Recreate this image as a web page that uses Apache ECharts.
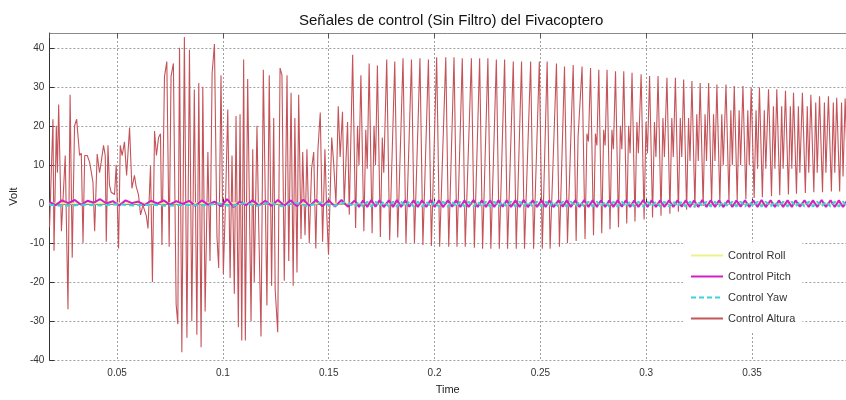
<!DOCTYPE html>
<html>
<head>
<meta charset="utf-8">
<title>Señales de control</title>
<script src="https://cdn.jsdelivr.net/npm/echarts@6/dist/echarts.min.js"></script>
<style>
  html, body { margin: 0; padding: 0; background: #fff; }
  #chart { width: 846px; height: 400px; }
</style>
</head>
<body>
<div id="chart"></div>
<script>
// Control Altura, irregular start: [time, volt] turning points
const alturaEarly = [
    [0.0181, -6], [0.0197, 21.7], [0.0202, -12], [0.0213, 20], [0.0218, 8], [0.0224, 25.5],
    [0.0237, -7], [0.0255, 12.4], [0.0268, -27], [0.0278, 28], [0.0288, -13.8], [0.0299, 20],
    [0.0309, 21.7], [0.0316, 17], [0.0323, 12.4], [0.0331, 13], [0.0339, -10], [0.0347, 12.4],
    [0.0359, 12.4], [0.0370, 10.7], [0.0378, 8.2], [0.0386, 5.6], [0.0394, -7], [0.0406, 12.8],
    [0.0417, 8], [0.0425, 10.7], [0.0436, 15], [0.0444, 12.4], [0.0449, -9.7], [0.0457, 15],
    [0.0464, 4.8], [0.0472, 3], [0.0488, 2.4], [0.0496, 10], [0.0507, -11.4], [0.0515, 15],
    [0.0524, 12.4], [0.0535, 15.9], [0.0545, 7.3], [0.0559, 19.6], [0.0570, 4], [0.0582, 7.3],
    [0.0590, 4.5], [0.0601, 2.4], [0.0611, -2.8], [0.0622, -0.3], [0.0638, -3], [0.0646, -6.3],
    [0.0658, 9.7], [0.0667, -20], [0.0677, 18.7], [0.0686, 12.4], [0.0696, 17], [0.0705, 18],
    [0.0712, -10.5], [0.0724, 32.7], [0.0735, 36.5], [0.0746, -11], [0.0755, 32.7], [0.0766, 36],
    [0.0779, -25.7], [0.0787, -30.8], [0.0795, 40], [0.0806, -38], [0.0818, 42.8], [0.0830, -34.3],
    [0.0842, 39.5], [0.0853, -30], [0.0865, 29.3], [0.0877, -33.5], [0.0886, 31], [0.0897, -36.7],
    [0.0905, 30], [0.0916, -27.6], [0.0929, 13.3], [0.0939, -14.6], [0.0949, 33.5], [0.0960, 41],
    [0.0972, -8.5], [0.0980, -16.4], [0.0991, 33], [0.1002, -18], [0.1012, 0], [0.1023, 24.2],
    [0.1034, -19], [0.1043, 12.4], [0.1054, -23], [0.1062, 22.5], [0.1073, -31.6], [0.1081, 23],
    [0.1089, -35], [0.1098, 37], [0.1106, -35], [0.1117, 32], [0.1125, 31.5], [0.1133, -30],
    [0.1141, 14], [0.1148, -20], [0.1161, 20], [0.1169, -5], [0.1180, -34], [0.1191, 34.4],
    [0.1200, 34], [0.1208, -26], [0.1219, 33], [0.1230, -21], [0.1240, 22], [0.1247, -22],
    [0.1259, -32.9], [0.1270, 34.8], [0.1279, 33], [0.1290, -19.7], [0.1303, 33], [0.1311, -14.6],
    [0.1322, 28.5], [0.1332, -21], [0.1340, 22], [0.1350, -17.6], [0.1358, 28], [0.1369, -9],
    [0.1377, 13.3], [0.1388, -8], [0.1397, 14], [0.1408, -10], [0.1419, 9], [0.1429, 13.3],
    [0.1439, -11.4], [0.1449, 14], [0.1460, 23.4], [0.1471, -9.7], [0.1482, 14], [0.1491, -3],
    [0.1499, -13], [0.1514, 17], [0.1523, 10.7], [0.1534, 0], [0.1545, 25], [0.1554, 12],
    [0.1565, 23.6], [0.1573, -0.3], [0.1589, 21], [0.1597, -2.8]
];

// Regular oscillation: one entry per cycle (time of the peak)
const cycleT = [
    0.1613, 0.1652, 0.1691, 0.1730, 0.1774, 0.1812, 0.1851, 0.1891, 0.1931, 0.1971,
    0.2010, 0.2053, 0.2092, 0.2131, 0.2174, 0.2213, 0.2252, 0.2292, 0.2331, 0.2372,
    0.2411, 0.2454, 0.2495, 0.2532, 0.2576, 0.2614, 0.2655, 0.2697, 0.2737, 0.2776,
    0.2815, 0.2855, 0.2894, 0.2933, 0.2976, 0.3016, 0.3056, 0.3098, 0.3138, 0.3177,
    0.3216, 0.3255, 0.3295, 0.3334, 0.3377, 0.3416, 0.3457, 0.3496, 0.3535, 0.3578,
    0.3617, 0.3658, 0.3696, 0.3738, 0.3778, 0.3819, 0.3861, 0.3900, 0.3940
];
const peakV = [
    38.2, 33, 36, 35.5, 37, 36.5, 37.3, 37, 37.3, 37,
    37.6, 37.6, 37.6, 37.3, 37.3, 37.3, 37.3, 37, 37, 36.5,
    36.5, 36.5, 36.5, 36.5, 36, 35.2, 35.6, 35.2, 34.8, 34.4,
    34.4, 34, 34, 33.6, 33.2, 32.8, 32.8, 32.3, 32.3, 31.9,
    31.5, 31, 31, 30.6, 30.6, 30.2, 30.2, 29.8, 29.8, 29.4,
    29.4, 29, 28.5, 28.5, 28, 27.6, 27.6, 27.2, 27
];
const troughV = [
    -6.2, -7, -7.5, -8.5, -9.3, -8.6, -10, -10, -10.5, -10.8,
    -11, -11, -11, -11, -11.2, -11.5, -11.5, -11.5, -11.5, -11.5,
    -11.5, -11.5, -11.5, -11.5, -11, -10, -9.5, -9, -8, -7.5,
    -6.5, -6, -5, -4.5, -4, -3.5, -3, -2.5, -2, -1.5,
    -1, -0.5, 0, 0.3, 0.6, 1, 1.2, 1.5, 1.7, 2,
    2.2, 2.4, 2.6, 2.8, 3, 3, 3.2, 3.2, 3.4
];
const bandHi = [
    20, 19, 20, 17, null, null, null, null, null, null,
    null, null, null, null, null, null, null, null, null, null,
    null, null, null, null, null, null, 17, 18, 18, 19,
    19, 20, 20, 21, 21, 21, 22, 22, 22, 22,
    23, 23, 23, 23, 24, 24, 24, 24, 24, 25,
    25, 25, 25, 25, 26, 26, 26, 26, 26
];
const bandLo = [
    10, 9, 10, 8, null, null, null, null, null, null,
    null, null, null, null, null, null, null, null, null, null,
    null, null, null, null, null, null, 17, 16, 15, 15,
    14, 14, 13, 13, 13, 12, 12, 12, 12, 11,
    11, 11, 11, 10, 10, 10, 10, 9, 9, 9,
    9, 9, 8, 8, 8, 8, 8, 7, 7
];

// Control Pitch / Yaw near zero
const pitchEarly = [
    [0.018, 0.5], [0.021, -0.3], [0.024, 0.9], [0.027, 0.2], [0.030, 1.0], [0.033, -0.2],
    [0.036, 0.8], [0.039, 0.3], [0.042, 1.2], [0.045, 0.1], [0.048, 0.7], [0.051, -0.4],
    [0.054, 0.9], [0.057, 0.2], [0.060, 0.6], [0.063, -0.3], [0.066, 0.8], [0.069, 0.1],
    [0.072, 0.9], [0.075, -0.2], [0.078, 0.7], [0.081, 0.0], [0.084, 0.8], [0.087, -0.5],
    [0.090, 0.9], [0.093, -0.2], [0.096, 0.6], [0.099, -0.6], [0.102, 1.2], [0.105, -0.8],
    [0.108, 0.6], [0.111, -0.3], [0.114, 0.9], [0.117, -0.4], [0.120, 0.8], [0.123, -0.5],
    [0.126, 1.0], [0.129, -0.4], [0.132, 0.9], [0.135, -0.6], [0.138, 1.1], [0.141, -0.5],
    [0.144, 1.0], [0.147, -0.6], [0.150, 0.9], [0.153, -0.7], [0.156, 1.0], [0.159, -0.7]
];
const pitchHi = [
    0.9, 0.9, 1.0, 0.9, 0.9, 1.0, 0.9, 0.9, 0.9, 1.0,
    0.9, 0.9, 0.9, 0.9, 1.0, 0.9, 0.9, 0.9, 0.9, 0.9,
    1.0, 0.9, 0.9, 0.9, 0.9, 0.9, 0.9, 1.0, 0.9, 0.9,
    0.9, 0.9, 0.9, 0.9, 1.0, 0.9, 0.9, 0.9, 0.9, 0.9,
    0.9, 1.0, 0.9, 0.9, 0.9, 0.9, 0.9, 0.9, 1.0, 0.9,
    0.9, 0.9, 0.9, 0.9, 0.9, 1.0, 0.9, 0.9, 0.9
];
const pitchLo = [
    -0.8, -0.8, -0.7, -0.8, -0.8, -0.8, -0.7, -0.8, -0.8, -0.8,
    -0.8, -0.7, -0.8, -0.8, -0.8, -0.8, -0.8, -0.7, -0.8, -0.8,
    -0.8, -0.8, -0.8, -0.8, -0.7, -0.8, -0.8, -0.8, -0.8, -0.8,
    -0.8, -0.7, -0.8, -0.8, -0.8, -0.8, -0.8, -0.8, -0.7, -0.8,
    -0.8, -0.8, -0.8, -0.8, -0.8, -0.7, -0.8, -0.8, -0.8, -0.8,
    -0.8, -0.8, -0.7, -0.8, -0.8, -0.8, -0.8, -0.8, -0.8
];
const yawEarly = [
    [0.018, -0.3], [0.026, -0.5], [0.034, -0.2], [0.042, -0.4], [0.050, -0.1], [0.058, -0.4],
    [0.066, -0.2], [0.074, -0.5], [0.082, -0.2], [0.090, -0.4], [0.098, 0.1], [0.104, -0.6],
    [0.110, 0.2], [0.116, -0.5], [0.122, 0.3], [0.128, -0.6], [0.134, 0.3], [0.140, -0.6],
    [0.146, 0.4], [0.152, -0.6], [0.158, 0.5]
];
const yawHi = 0.6;
const yawLo = -0.7;
const rollPts = [[0.018, 0.1], [0.1, 0.2], [0.2, 0.0], [0.3, 0.1], [0.395, 0.0]];

// Build series data
const altura = alturaEarly.slice();
const pitch = pitchEarly.slice();
const yaw = yawEarly.slice();
cycleT.forEach(function(t, i) {
    altura.push([t, peakV[i]]);
    altura.push([t + 0.0014, troughV[i]]);
    if (bandHi[i] !== null) {
        altura.push([t + 0.0023, bandHi[i]]);
        altura.push([t + 0.0030, bandLo[i]]);
    }
    pitch.push([t + 0.001, pitchHi[i]]);
    pitch.push([t + 0.003, pitchLo[i]]);
    yaw.push([t + 0.001, yawLo]);
    yaw.push([t + 0.003, yawHi]);
});

const chart = echarts.init(document.getElementById("chart"));
const font = "'Liberation Sans', Arial, sans-serif";
const dotted = {show: true, lineStyle: {color: "#a0a0a0", type: [2, 2], width: 1}};

const option = {
    animation: false,
    backgroundColor: "#fff",
    textStyle: {fontFamily: font},
    title: {
        text: "Señales de control (Sin Filtro) del Fivacoptero",
        left: 294,
        top: 8,
        textStyle: {fontSize: 15, fontWeight: "normal", color: "#111", fontFamily: font}
    },
    legend: {
        orient: "vertical",
        left: 683,
        top: 242,
        padding: [8, 7, 8, 7],
        backgroundColor: "#fff",
        itemWidth: 32,
        itemHeight: 12,
        itemGap: 10,
        itemStyle: {opacity: 0},
        textStyle: {fontSize: 11, color: "#333", fontFamily: font},
        data: ["Control Roll", "Control Pitch", "Control Yaw", "Control Altura"]
    },
    grid: {left: 48, right: 0, top: 33, bottom: 36},
    xAxis: [{
        type: "value",
        min: 0.018,
        max: 0.3944,
        splitNumber: 8,
        name: "Time",
        nameLocation: "middle",
        nameGap: 24,
        nameTextStyle: {fontSize: 11, color: "#222"},
        axisLine: {show: true, lineStyle: {color: "#333"}},
        axisTick: {show: true, inside: true, length: 5, lineStyle: {color: "#333"}},
        axisLabel: {fontSize: 10, color: "#333", margin: 8, showMinLabel: false, showMaxLabel: false},
        splitLine: dotted
    }, {
        type: "value",
        position: "top",
        min: 0.018,
        max: 0.3944,
        splitNumber: 8,
        axisLine: {show: true, lineStyle: {color: "#8a8a8a"}},
        axisTick: {show: true, inside: true, length: 5, lineStyle: {color: "#555"}},
        axisLabel: {show: false},
        splitLine: {show: false}
    }],
    yAxis: [{
        type: "value",
        min: -40,
        max: 43.8,
        interval: 10,
        name: "Volt",
        nameLocation: "middle",
        nameGap: 22,
        nameTextStyle: {fontSize: 11, color: "#222"},
        axisLine: {show: true, lineStyle: {color: "#333"}},
        axisTick: {show: true, inside: true, length: 5, lineStyle: {color: "#333"}},
        axisLabel: {fontSize: 10, color: "#333", margin: 5, showMaxLabel: false},
        splitLine: dotted
    }],
    series: [{
        name: "Control Roll",
        type: "line",
        symbol: "none",
        z: 3,
        lineStyle: {color: "#eef08a", width: 2},
        itemStyle: {color: "#eef08a"},
        data: rollPts
    }, {
        name: "Control Pitch",
        type: "line",
        symbol: "none",
        z: 4,
        lineStyle: {color: "#d21ec8", width: 2},
        itemStyle: {color: "#d21ec8"},
        data: pitch
    }, {
        name: "Control Yaw",
        type: "line",
        symbol: "none",
        z: 5,
        lineStyle: {color: "#3cd2dc", width: 2, type: [5, 3]},
        itemStyle: {color: "#3cd2dc"},
        data: yaw
    }, {
        name: "Control Altura",
        type: "line",
        symbol: "none",
        z: 2,
        sampling: null,
        lineStyle: {color: "#c4545a", width: 1.1},
        itemStyle: {color: "#b88080"},
        data: altura
    }]
};
chart.setOption(option);
</script>
</body>
</html>
